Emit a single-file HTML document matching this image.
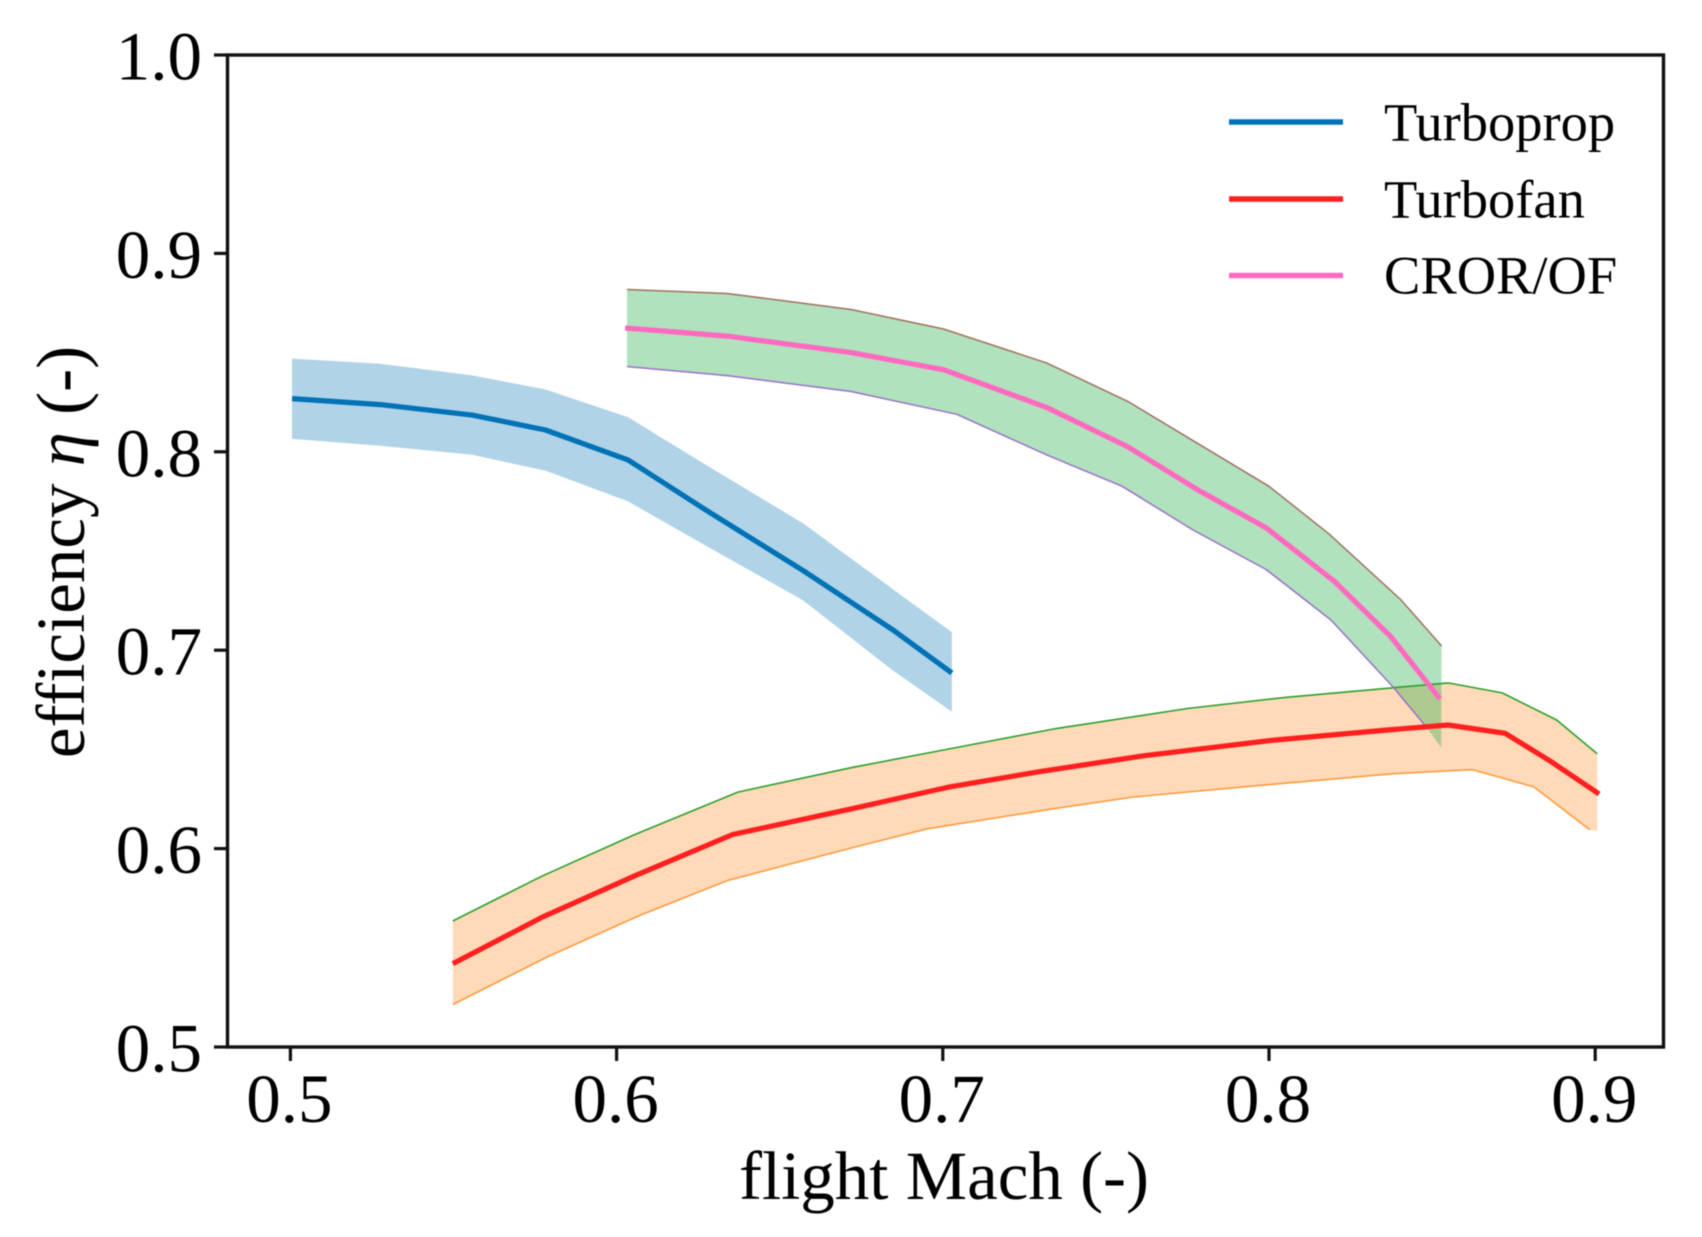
<!DOCTYPE html>
<html lang="en">
<head>
<meta charset="utf-8">
<title>Efficiency vs flight Mach</title>
<style>
html,body{margin:0;padding:0;background:#fff;}
svg{display:block;filter:blur(0.5px);}
text{font-family:"Liberation Serif","Times New Roman",serif;fill:#000;}
</style>
</head>
<body>
<svg id="chart" xmlns="http://www.w3.org/2000/svg" width="1702" height="1237" viewBox="0 0 1702 1237">
  <rect x="0" y="0" width="1702" height="1237" fill="#fff"/>
  <g id="bands"></g>
  <g id="lines"></g>
  <rect x="227.5" y="55" width="1436" height="992" fill="none" stroke="#111" stroke-width="3.4"/>
  <g id="xticks"></g>
  <g id="yticks"></g>
  <text x="944" y="1199" font-size="69" text-anchor="middle">flight Mach (-)</text>
  <text transform="translate(84 552) rotate(-90)" font-size="69" text-anchor="middle">efficiency <tspan font-style="italic">η</tspan> (-)</text>
  <g>
    <line x1="1229" x2="1343" y1="122" y2="122" stroke="#0072b5" stroke-width="5.4"/>
    <text x="1384" y="140.5" font-size="54.5">Turboprop</text>
    <line x1="1229" x2="1343" y1="199" y2="199" stroke="#ff1f1f" stroke-width="5.4"/>
    <text x="1384" y="217.5" font-size="54.5">Turbofan</text>
    <line x1="1229" x2="1343" y1="275.5" y2="275.5" stroke="#ff69c0" stroke-width="5.4"/>
    <text x="1384" y="293.5" font-size="54.5">CROR/OF</text>
  </g>
</svg>
<script>
var xTickValues = [0.5, 0.6, 0.7, 0.8, 0.9];
var xTickLabels = ["0.5", "0.6", "0.7", "0.8", "0.9"];
var yTickValues = [0.5, 0.6, 0.7, 0.8, 0.9, 1.0];
var yTickLabels = ["0.5", "0.6", "0.7", "0.8", "0.9", "1.0"];

var turbopropMach = [0.5005, 0.5276, 0.5557, 0.5782, 0.6035, 0.6273, 0.6573, 0.6845, 0.7028];
var turbopropEff = [0.8268, 0.8238, 0.8185, 0.811, 0.7959, 0.7707, 0.74, 0.7105, 0.6885];
var turbopropUpper = [0.847, 0.8444, 0.8385, 0.8314, 0.8175, 0.7935, 0.7638, 0.731, 0.709];
var turbopropLower = [0.8065, 0.803, 0.7985, 0.7905, 0.775, 0.7527, 0.725, 0.69, 0.669];

var turbofanMach = [0.5498, 0.5773, 0.6056, 0.6356, 0.6719, 0.7018, 0.7301, 0.7618, 0.8016, 0.8384, 0.8549, 0.8724, 0.8865, 0.9012];
var turbofanEff = [0.542, 0.5655, 0.5863, 0.6071, 0.62, 0.631, 0.6389, 0.6468, 0.6547, 0.6601, 0.6623, 0.6581, 0.6438, 0.6275];
var turbofanUpperMach = [0.5498, 0.5773, 0.6056, 0.6372, 0.6719, 0.7002, 0.735, 0.775, 0.805, 0.8384, 0.8549, 0.8715, 0.8882, 0.9006];
var turbofanUpper = [0.5635, 0.5863, 0.6071, 0.6285, 0.6408, 0.6497, 0.6606, 0.6706, 0.6762, 0.6811, 0.6835, 0.6785, 0.6648, 0.6478];
var turbofanLowerMach = [0.5498, 0.579, 0.6073, 0.634, 0.6719, 0.6952, 0.7335, 0.7584, 0.7983, 0.8384, 0.8624, 0.8812, 0.8983, 0.9006];
var turbofanLower = [0.5214, 0.5456, 0.5665, 0.5839, 0.6003, 0.61, 0.62, 0.626, 0.632, 0.6378, 0.6398, 0.6311, 0.6095, 0.609];

var crorMach = [0.6026, 0.6339, 0.6719, 0.7002, 0.7318, 0.7567, 0.7784, 0.7991, 0.82, 0.8374, 0.8524];
var crorEff = [0.8624, 0.8583, 0.85, 0.8414, 0.8224, 0.8025, 0.7806, 0.7617, 0.7348, 0.7067, 0.6755];
var crorUpperMach = [0.6032, 0.6339, 0.6719, 0.7002, 0.7318, 0.7567, 0.8, 0.8183, 0.8405, 0.8529];
var crorUpper = [0.8818, 0.8798, 0.8717, 0.8619, 0.8448, 0.8254, 0.7826, 0.7587, 0.7253, 0.7021];
var crorLowerMach = [0.6032, 0.6339, 0.6719, 0.7043, 0.7318, 0.755, 0.7767, 0.7991, 0.819, 0.838, 0.848, 0.8528];
var crorLower = [0.843, 0.8384, 0.8304, 0.8189, 0.7985, 0.7826, 0.7606, 0.7407, 0.7152, 0.6815, 0.6618, 0.6509];

var SVGNS = "http://www.w3.org/2000/svg";
function xScale(m) { return 290.4 + (m - 0.5) * 3262; }
function yScale(v) { return 1047 - (v - 0.5) * 1984; }
function pts(xs, ys) {
  return xs.map(function (m, i) { return xScale(m).toFixed(1) + "," + yScale(ys[i]).toFixed(1); });
}
function make(tag, parent) {
  var el = document.createElementNS(SVGNS, tag);
  parent.appendChild(el);
  return el;
}
function band(parent, upX, upY, loX, loY, fill, opacity) {
  var el = make("polygon", parent);
  el.setAttribute("points", pts(upX, upY).concat(pts(loX, loY).reverse()).join(" "));
  el.setAttribute("fill", fill);
  el.setAttribute("fill-opacity", opacity);
  return el;
}
function line(parent, xs, ys, color, width) {
  var el = make("polyline", parent);
  el.setAttribute("points", pts(xs, ys).join(" "));
  el.setAttribute("fill", "none");
  el.setAttribute("stroke", color);
  el.setAttribute("stroke-width", width);
  el.setAttribute("stroke-linejoin", "round");
  return el;
}

var bands = document.getElementById("bands");
var lines = document.getElementById("lines");

var bTurboprop = band(bands, turbopropMach, turbopropUpper, turbopropMach, turbopropLower, "#0072b5", 0.31);



var bTurbofan = band(bands, turbofanUpperMach, turbofanUpper, turbofanLowerMach, turbofanLower, "#fc9331", 0.34);



var bCror = band(bands, crorUpperMach, crorUpper, crorLowerMach, crorLower, "#24af48", 0.36);



var oFanUp = line(lines, turbofanUpperMach, turbofanUpper, "#2ca02c", 1.6);



var oFanLo = line(lines, turbofanLowerMach.slice(0, -1), turbofanLower.slice(0, -1), "#ff9a3c", 1.6);



var oCrorUp = line(lines, crorUpperMach, crorUpper, "#a07060", 1.5);



var oCrorLo = line(lines, crorLowerMach.slice(0, -1), crorLower.slice(0, -1), "#9a70c8", 1.5);



var lTurboprop = line(lines, turbopropMach, turbopropEff, "#0072b5", 5.2);



var lTurbofan = line(lines, turbofanMach, turbofanEff, "#ff1f1f", 5.2);



var lCror = line(lines, crorMach, crorEff, "#ff69c0", 5.2);



var xTicks = document.getElementById("xticks");
xTickValues.forEach(function (v, i) {
  var t = make("line", xTicks);
  
  
  t.setAttribute("x1", xScale(v));
  t.setAttribute("x2", xScale(v));
  t.setAttribute("y1", 1047);
  t.setAttribute("y2", 1061);
  t.setAttribute("stroke", "#111");
  t.setAttribute("stroke-width", 3.2);
  var l = make("text", xTicks);
  
  
  l.setAttribute("x", xScale(v) - 1);
  l.setAttribute("y", 1122);
  l.setAttribute("font-size", 69);
  l.setAttribute("text-anchor", "middle");
  l.textContent = xTickLabels[i];
});

var yTicks = document.getElementById("yticks");
yTickValues.forEach(function (v, i) {
  var t = make("line", yTicks);
  
  
  t.setAttribute("x1", 214);
  t.setAttribute("x2", 227.5);
  t.setAttribute("y1", yScale(v));
  t.setAttribute("y2", yScale(v));
  t.setAttribute("stroke", "#111");
  t.setAttribute("stroke-width", 3.2);
  var l = make("text", yTicks);
  
  
  l.setAttribute("x", 202);
  l.setAttribute("y", yScale(v) + 24.5);
  l.setAttribute("font-size", 69);
  l.setAttribute("text-anchor", "end");
  l.textContent = yTickLabels[i];
});
</script>
</body>
</html>
